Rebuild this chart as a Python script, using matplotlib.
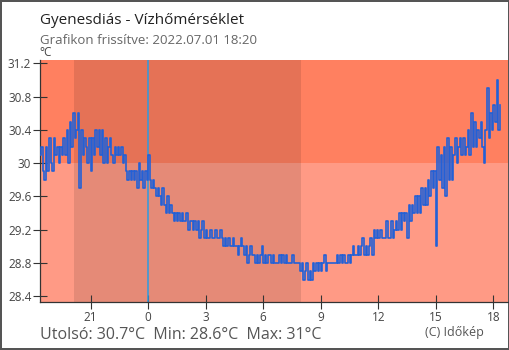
import numpy as np
import matplotlib.pyplot as plt
from matplotlib.ticker import FixedLocator, FormatStrFormatter

plt.rcParams['font.family'] = ['Open Sans', 'DejaVu Sans']

# idő: órák éjfélhez képest, 5 percenként 18:20-tól (előző nap) 18:20-ig
kezdet = -5 - 40 / 60
lepes = 5 / 60

homerseklet = [
    30.1, 30.2, 29.9, 29.8, 30.2, 29.9, 30.3, 30.0, 29.9, 30.3, 30.1, 30.2,
    30.0, 30.2, 30.1, 30.3, 30.1, 30.4, 30.0, 30.5, 30.2, 30.6, 30.3, 30.4,
    30.6, 29.7, 30.4, 30.1, 30.3, 30.2, 30.0, 30.3, 29.9, 30.3, 30.1, 30.4,
    30.2, 30.4, 30.1, 30.4, 30.0, 30.3, 30.0, 30.2, 30.3, 30.1, 30.0, 30.2,
    30.1, 30.2, 30.1, 30.2, 30.0, 30.1, 29.9, 29.8, 29.9, 29.8, 29.9, 29.8,
    29.9, 29.7, 30.0, 29.8, 29.9, 29.7, 29.9, 29.8, 30.1, 29.8, 29.7, 29.8,
    29.7, 29.6, 29.7, 29.6, 29.5, 29.7, 29.5, 29.4, 29.6, 29.4, 29.5, 29.4,
    29.3, 29.4, 29.3, 29.4, 29.3, 29.4, 29.3, 29.3, 29.4, 29.2, 29.3, 29.3,
    29.2, 29.3, 29.2, 29.3, 29.1, 29.2, 29.3, 29.1, 29.2, 29.1, 29.1, 29.2,
    29.1, 29.1, 29.2, 29.1, 29.1, 29.2, 29.1, 29.0, 29.1, 29.0, 29.1, 29.0,
    29.0, 29.1, 29.0, 29.0, 28.9, 29.0, 29.1, 29.0, 28.9, 29.0, 28.8, 28.9,
    29.0, 28.9, 28.9, 28.8, 28.9, 28.8, 28.9, 29.0, 28.8, 28.9, 28.8, 28.9,
    28.9, 28.8, 28.9, 28.8, 28.8, 28.8, 28.9, 28.8, 28.9, 28.8, 28.9, 28.8,
    28.8, 28.8, 28.9, 28.8, 28.8, 28.8, 28.8, 28.7, 28.8, 28.6, 28.7, 28.8,
    28.6, 28.7, 28.6, 28.8, 28.7, 28.8, 28.7, 28.8, 28.7, 28.8, 28.9, 28.7,
    28.8, 28.8, 28.8, 28.8, 28.8, 28.8, 28.9, 28.8, 28.9, 28.8, 28.9, 28.8,
    28.8, 28.9, 28.8, 28.9, 29.0, 28.9, 28.9, 29.0, 28.9, 29.0, 29.1, 28.9,
    29.0, 28.9, 29.0, 29.1, 28.9, 29.2, 29.1, 29.2, 29.1, 29.2, 29.1, 29.1,
    29.1, 29.3, 29.1, 29.1, 29.3, 29.1, 29.2, 29.3, 29.2, 29.4, 29.2, 29.4,
    29.3, 29.4, 29.1, 29.5, 29.3, 29.5, 29.4, 29.6, 29.4, 29.6, 29.4, 29.7,
    29.5, 29.7, 29.5, 29.8, 29.6, 29.9, 29.7, 29.9, 29.0, 30.2, 29.8, 30.1,
    29.7, 30.2, 29.6, 30.3, 29.8, 30.2, 29.8, 30.1, 30.3, 30.0, 30.2, 30.3,
    30.1, 30.3, 30.1, 30.2, 30.4, 30.1, 30.6, 30.2, 30.5, 30.2, 30.4, 30.3,
    30.5, 30.2, 30.0, 30.4, 30.9, 30.3, 30.6, 30.4, 30.7, 30.5, 31.0, 30.4,
    30.7,
]
ido = kezdet + lepes * np.arange(len(homerseklet))

# éjszakai sáv (órák éjfélhez képest)
ejszaka = (-3.88, 7.97)

xtick_pos = [-3, 0, 3, 6, 9, 12, 15, 18]
xtick_lbl = ['21', '0', '3', '6', '9', '12', '15', '18']
ytick_pos = [28.4, 28.8, 29.2, 29.6, 30.0, 30.4, 30.8, 31.2]

xmin, xmax = -5.635, 18.76
ymin, ymax = 28.335, 31.24

fig = plt.figure(figsize=(5.1, 3.5), dpi=100)
fig.patch.set_facecolor('white')
fig.patch.set_edgecolor('#555555')
fig.patch.set_linewidth(1.5)

ax = fig.add_axes([40 / 510, 1 - 301.7 / 350, 468 / 510, 241.7 / 350])

# hőmérséklet sávok
ax.axhspan(30.0, ymax, color='#FF8060', lw=0, zorder=0)
ax.axhspan(ymin, 30.0, color='#FF9A85', lw=0, zorder=0)
ax.axvspan(ejszaka[0], ejszaka[1], color='black', alpha=0.1, lw=0, zorder=1)

ax.axvline(0, color='#2E9BE0', lw=1.1, zorder=2)
ax.plot(ido, homerseklet, drawstyle='steps-post', color='#2360D6', lw=1.2, zorder=3)

ax.set_xlim(xmin, xmax)
ax.set_ylim(ymin, ymax)

ax.xaxis.set_major_locator(FixedLocator(xtick_pos))
ax.set_xticklabels(xtick_lbl)
ax.yaxis.set_major_locator(FixedLocator(ytick_pos))
ax.yaxis.set_major_formatter(FormatStrFormatter('%g'))

for s in ['top', 'right']:
    ax.spines[s].set_visible(False)
for s in ['left', 'bottom']:
    ax.spines[s].set_color('#333333')
    ax.spines[s].set_linewidth(0.9)

ax.tick_params(direction='inout', length=9.5, width=0.8, color='#333333',
               labelsize=8.5, labelcolor='#444444')
ax.tick_params(axis='y', pad=1.5)
ax.tick_params(axis='x', pad=2)

fig.text(40 / 510, 1 - 23.5 / 350, 'Gyenesdiás - Vízhőmérséklet', fontsize=11,
         color='#222222', va='baseline')
fig.text(40 / 510, 1 - 44 / 350, 'Grafikon frissítve: 2022.07.01 18:20', fontsize=9.5,
         color='#666666', va='baseline')
fig.text(46 / 510, 1 - 53 / 350, '°C', fontsize=8.5, color='#444444',
         ha='center', va='center')
fig.text(40 / 510, 1 - 339 / 350, 'Utolsó: 30.7°C  Min: 28.6°C  Max: 31°C',
         fontsize=11.5, color='#555555', va='baseline')
fig.text(425 / 510, 1 - 336 / 350, '(C) Időkép', fontsize=9, color='#555555',
         va='baseline')

fig.savefig('out.png', dpi=100)
